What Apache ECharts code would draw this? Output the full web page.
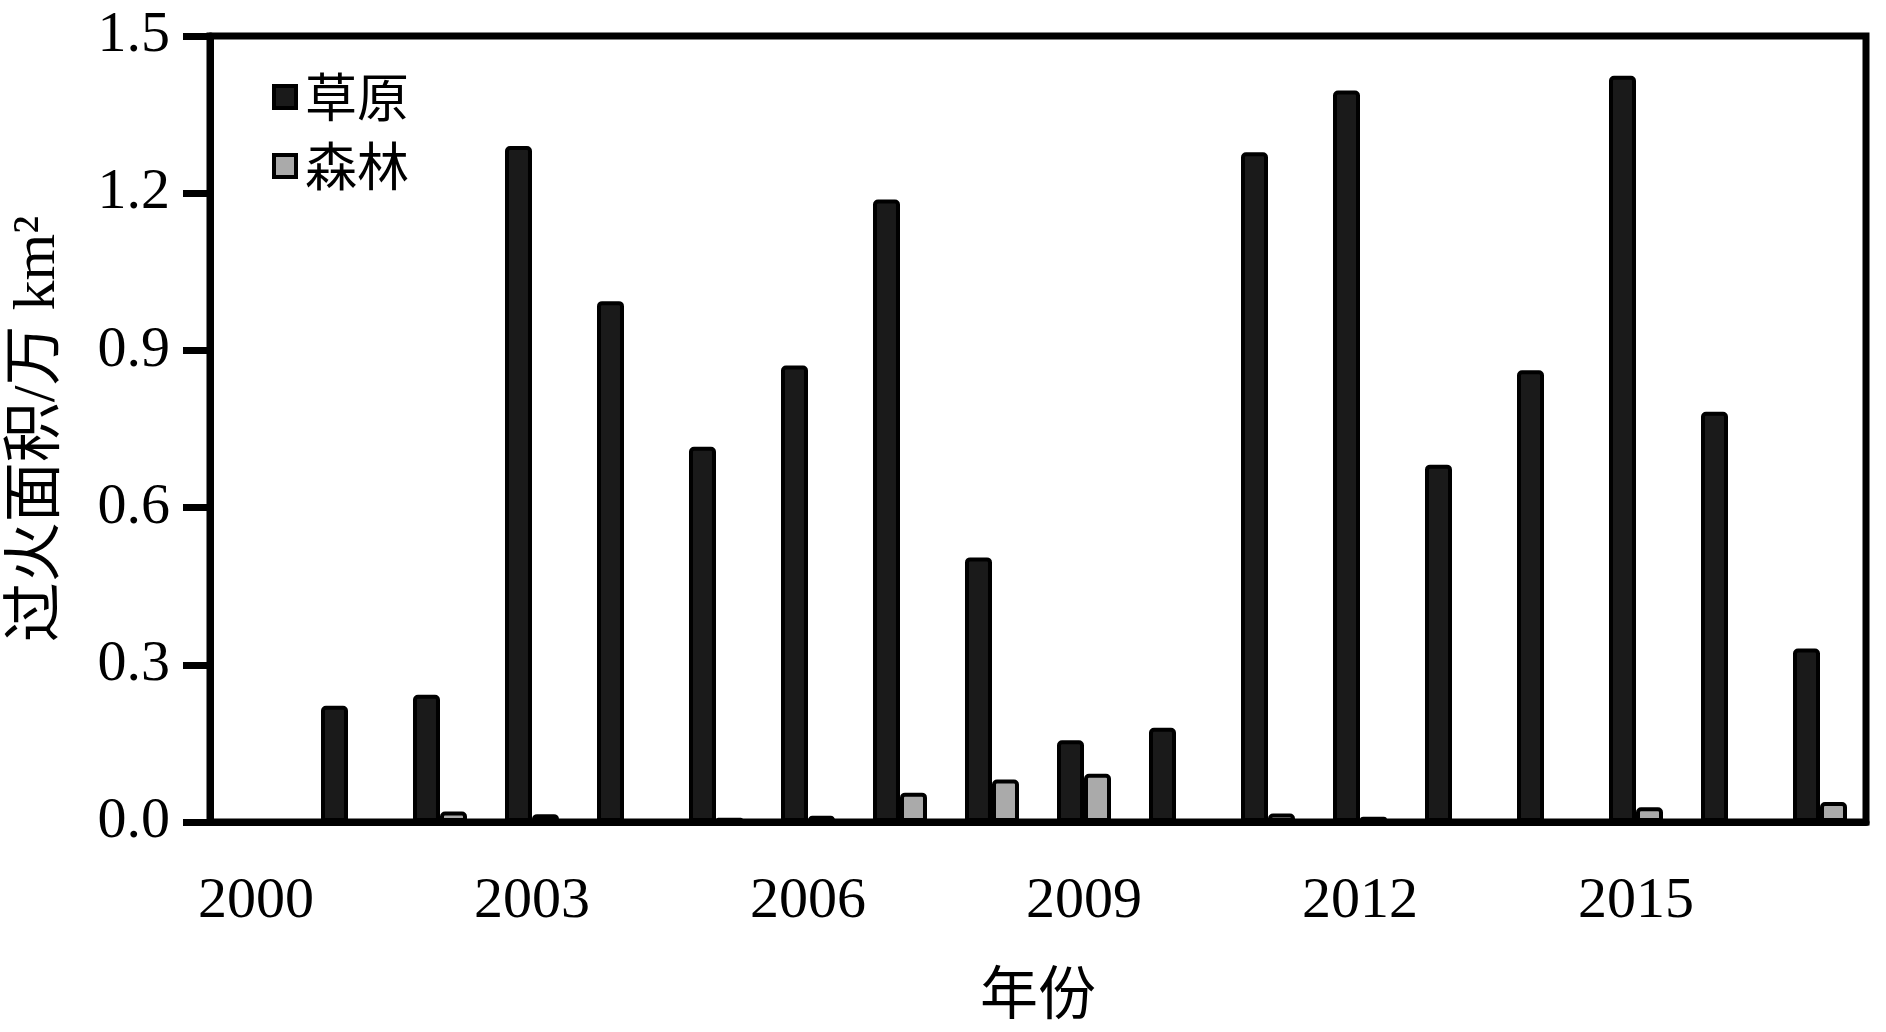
<!DOCTYPE html>
<html>
<head>
<meta charset="utf-8">
<script src="https://cdn.jsdelivr.net/npm/echarts@6/dist/echarts.min.js"></script>
<style>
html,body{margin:0;padding:0;background:#fff;}
#chart{width:1886px;height:1032px;}
</style>
</head>
<body>
<div id="chart"></div>
<script>
const years = ['2000','2001','2002','2003','2004','2005','2006','2007','2008','2009','2010','2011','2012','2013','2014','2015','2016','2017'];
const grassland = [0, 0.222, 0.243, 1.29, 0.994, 0.716, 0.871, 1.188, 0.505, 0.156, 0.18, 1.278, 1.396, 0.682, 0.862, 1.424, 0.783, 0.331];
const forest = [0, 0, 0.02, 0.015, 0, 0.008, 0.012, 0.056, 0.081, 0.092, 0, 0.016, 0.01, 0, 0, 0.028, 0, 0.038];
const seriesNames = ['草原', '森林'];
const yTicks = [0, 0.3, 0.6, 0.9, 1.2, 1.5];

const FONT = "'Liberation Serif', 'Times New Roman', 'Noto Sans CJK SC', serif";
const chart = echarts.init(document.getElementById('chart'), null, {renderer: 'canvas'});
chart.setOption({
  backgroundColor: '#fff',
  animation: false,
  grid: {left: 204, right: 20, top: 36, bottom: 210, show: true, borderColor: '#000', borderWidth: 7, backgroundColor: 'transparent'},
  legend: {
    orient: 'vertical', left: 267, top: 66, itemWidth: 22, itemHeight: 22, itemGap: 17,
    icon: 'rect',
    itemStyle: {borderWidth: 4, borderColor: '#000'},
    textStyle: {fontSize: 52, color: '#000', fontFamily: "'Noto Sans CJK SC', serif", padding: [0,0,0,4]},
    data: seriesNames
  },
  xAxis: {
    type: 'category', data: years,
    name: '年份', nameLocation: 'middle', nameGap: 141,
    nameTextStyle: {fontSize: 58, color: '#000', fontFamily: "'Noto Sans CJK SC', serif"},
    axisLine: {lineStyle: {color: '#000', width: 7}},
    axisTick: {alignWithLabel: true, length: 26, interval: 2, lineStyle: {color: '#000', width: 7}},
    axisLabel: {interval: 2, margin: 51, fontSize: 58, color: '#000', fontFamily: FONT},
    splitLine: {show: false}
  },
  yAxis: {
    type: 'value', min: yTicks[0], max: yTicks[yTicks.length-1], interval: 0.3,
    name: '过火面积/万 km²', nameLocation: 'middle', nameGap: 142,
    nameTextStyle: {fontSize: 60, color: '#000', fontFamily: FONT},
    axisLine: {show: true, lineStyle: {color: '#000', width: 7}},
    axisTick: {show: true, length: 27, lineStyle: {color: '#000', width: 7}},
    axisLabel: {margin: 40, fontSize: 58, color: '#000', fontFamily: FONT, formatter: v => v.toFixed(1)},
    splitLine: {show: false}
  },
  series: [
    {name: seriesNames[0], type: 'bar', data: grassland, barWidth: 27, barGap: '0%',
     itemStyle: {color: '#1a1a1a', borderColor: '#000', borderWidth: 4, borderRadius: [3,3,0,0]}},
    {name: seriesNames[1], type: 'bar', data: forest, barWidth: 27, barGap: '0%',
     itemStyle: {color: '#aaaaaa', borderColor: '#000', borderWidth: 4, borderRadius: [3,3,0,0]}}
  ]
});
</script>
</body>
</html>
